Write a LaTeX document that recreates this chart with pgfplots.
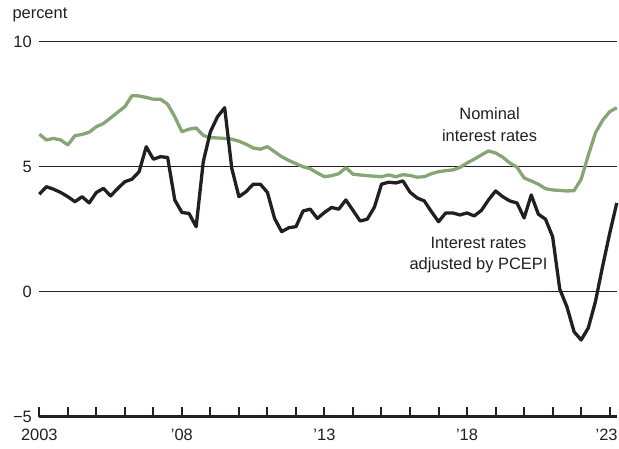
\documentclass[border=0pt]{standalone}
\usepackage{pgfplots}
\pgfplotsset{compat=1.18}
\usepackage{pgfplotstable}
\usepackage{fontspec}
\setmainfont{Liberation Sans}
\definecolor{ink}{HTML}{231F20}
\definecolor{sage}{HTML}{86A674}
\pgfplotstableread{
x nom real
2003.00 6.30 3.90
2003.25 6.07 4.20
2003.50 6.13 4.10
2003.75 6.07 3.97
2004.00 5.87 3.80
2004.25 6.24 3.60
2004.50 6.29 3.80
2004.75 6.38 3.55
2005.00 6.60 3.97
2005.25 6.73 4.13
2005.50 6.95 3.83
2005.75 7.18 4.13
2006.00 7.40 4.40
2006.25 7.84 4.50
2006.50 7.83 4.80
2006.75 7.77 5.80
2007.00 7.70 5.30
2007.25 7.70 5.40
2007.50 7.50 5.37
2007.75 7.00 3.67
2008.00 6.40 3.17
2008.25 6.50 3.13
2008.50 6.55 2.60
2008.75 6.25 5.20
2009.00 6.16 6.40
2009.25 6.15 7.00
2009.50 6.13 7.36
2009.75 6.10 4.93
2010.00 6.02 3.80
2010.25 5.90 4.00
2010.50 5.75 4.30
2010.75 5.70 4.30
2011.00 5.80 3.97
2011.25 5.60 2.93
2011.50 5.40 2.40
2011.75 5.25 2.56
2012.00 5.12 2.60
2012.25 5.00 3.23
2012.50 4.92 3.30
2012.75 4.75 2.93
2013.00 4.60 3.17
2013.25 4.64 3.37
2013.50 4.72 3.30
2013.75 4.96 3.67
2014.00 4.70 3.25
2014.25 4.67 2.83
2014.50 4.64 2.90
2014.75 4.62 3.38
2015.00 4.60 4.30
2015.25 4.67 4.38
2015.50 4.60 4.35
2015.75 4.68 4.43
2016.00 4.65 3.98
2016.25 4.58 3.75
2016.50 4.60 3.63
2016.75 4.72 3.20
2017.00 4.80 2.80
2017.25 4.84 3.15
2017.50 4.87 3.15
2017.75 4.97 3.07
2018.00 5.15 3.15
2018.25 5.30 3.03
2018.50 5.47 3.25
2018.75 5.63 3.67
2019.00 5.55 4.03
2019.25 5.38 3.80
2019.50 5.15 3.63
2019.75 4.98 3.55
2020.00 4.55 2.95
2020.25 4.43 3.87
2020.50 4.30 3.10
2020.75 4.12 2.90
2021.00 4.07 2.20
2021.25 4.05 0.10
2021.50 4.03 -0.60
2021.75 4.04 -1.60
2022.00 4.50 -1.93
2022.25 5.45 -1.45
2022.50 6.35 -0.40
2022.75 6.85 1.00
2023.00 7.20 2.33
2023.25 7.36 3.55
}\data
\begin{document}
\begin{tikzpicture}[font=\fontsize{16.5}{19}\selectfont, text=ink]
\useasboundingbox (-39.3bp,-32.3bp) rectangle (579.7bp,416.7bp);
\begin{axis}[
  at={(0,0)}, anchor=south west,
  scale only axis, width=577.5bp, height=375bp,
  xmin=2003, xmax=2023.25, ymin=-5, ymax=10,
  clip=false,
  axis x line*=bottom, axis y line*=left,
  y axis line style={draw=none},
  x axis line style={ink, line width=2.4bp, -},
  xtick={2003,...,2023},
  xticklabels={2003,,,,,’08,,,,,’13,,,,,’18,,,,,{\kern-6bp’23}},
  tick align=inside,
  major tick length=10bp,
  xtick style={ink, line width=2bp},
  ytick={-5,0,5,10},
  yticklabels={−5,0,5,10},
  ytick style={draw=none},
  ymajorgrids,
  major grid style={ink, line width=1.3bp},
  tick label style={font=\fontsize{16.5}{19}\selectfont, text=ink},
  xticklabel style={yshift=-9bp},
  yticklabel style={xshift=-4bp},
  /pgf/number format/assume math mode=true,
]
\addplot[sage, line width=3.3bp, line join=round] table[x=x, y=nom] {\data};
\addplot[ink, line width=3.3bp, line join=round] table[x=x, y=real] {\data};
\end{axis}
\node[anchor=base west] at (-30.3bp,398.4bp) {percent};
\node[anchor=base] at (450.3bp,296.7bp) {Nominal};
\node[anchor=base] at (450.3bp,275.0bp) {interest rates};
\node[anchor=base] at (439.2bp,168.4bp) {Interest rates};
\node[anchor=base] at (439.2bp,147.4bp) {adjusted by PCEPI};
\end{tikzpicture}
\end{document}
